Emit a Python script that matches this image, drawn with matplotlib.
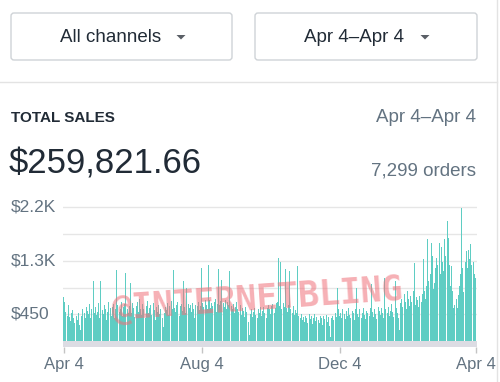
import matplotlib.pyplot as plt
from matplotlib.patches import FancyBboxPatch, Polygon
import numpy as np

plt.rcParams['font.family'] = ['Liberation Sans', 'DejaVu Sans']

# daily sales, Apr 4 -> Apr 3 next year (one row per week)
sales = [
    720, 640, 480, 420, 600, 390, 330,
    460, 510, 380, 300, 420, 350, 470,
    260, 180, 420, 520, 470, 380, 560,
    500, 440, 610, 380, 520, 990, 470,
    560, 430, 480, 620, 380, 990, 510,
    450, 600, 520, 340, 480, 650, 540,
    420, 560, 610, 380, 520, 1170, 590,
    480, 530, 640, 420, 560, 610, 1120,
    520, 470, 580, 950, 460, 620, 540,
    390, 570, 640, 480, 700, 530, 430,
    610, 520, 380, 580, 660, 470, 540,
    590, 430, 620, 510, 350, 560, 480,
    600, 440, 520, 380, 230, 470, 560,
    510, 620, 430, 580, 660, 520, 1170,
    540, 480, 600, 650, 420, 570, 610,
    500, 990, 560, 470, 880, 610, 540,
    590, 480, 620, 520, 380, 600, 570,
    640, 510, 580, 1200, 620, 560, 670,
    600, 520, 1250, 680, 540, 620, 580,
    650, 700, 480, 610, 1190, 590, 660,
    1000, 620, 560, 680, 520, 640, 600,
    1150, 580, 520, 610, 460, 560, 640,
    520, 480, 600, 430, 540, 500, 390,
    560, 480, 310, 100, 450, 520, 400,
    480, 540, 430, 380, 520, 460, 560,
    420, 500, 560, 470, 380, 540, 600,
    520, 440, 580, 610, 470, 550, 620,
    640, 1370, 580, 1300, 520, 620, 560,
    1190, 540, 480, 600, 1150, 520, 460,
    580, 430, 510, 470, 1240, 420, 380,
    450, 340, 400, 310, 420, 380, 300,
    440, 360, 410, 290, 380, 450, 330,
    400, 350, 300, 420, 380, 260, 410,
    360, 430, 320, 390, 250, 70, 380,
    420, 350, 460, 400, 880, 520, 410,
    470, 380, 520, 440, 360, 490, 410,
    540, 430, 380, 500, 460, 350, 520,
    880, 450, 400, 520, 380, 470, 540,
    430, 360, 500, 460, 410, 540, 940,
    480, 390, 520, 450, 370, 560, 500,
    430, 540, 470, 380, 1040, 520, 460,
    560, 420, 500, 610, 480, 390, 990,
    540, 470, 380, 180, 620, 700, 560,
    780, 640, 520, 830, 690, 580, 740,
    650, 820, 1290, 600, 720, 680, 560,
    740, 650, 780, 1350, 820, 700, 900,
    1670, 980, 1100, 1610, 1400, 860, 950,
    1200, 1370, 1250, 1610, 1100, 1550, 1300,
    1150, 1670, 1400, 1970, 1700, 1250, 900,
    1240, 820, 550, 600, 700, 550, 750,
    900, 1100, 2180, 1200, 800, 1300, 1480,
    1200, 1500, 1350, 1600, 1250, 1300, 1100,
    1040,
]
date_ticks = [0, 122, 244, 365]
date_labels = ['Apr 4', 'Aug 4', 'Dec 4', 'Apr 4']
grid_vals = [440, 880, 1320, 1760, 2200]
ylabels = {2200: '$2.2K', 1320: '$1.3K', 440: '$450'}

W, H = 500, 382
fig = plt.figure(figsize=(W / 100, H / 100), dpi=100)

# overlay in pixel coords for the dashboard chrome
bg = fig.add_axes([0, 0, 1, 1])
bg.set_xlim(0, W)
bg.set_ylim(H, 0)
bg.axis('off')

for x0, x1, label, cx, caret in [(11, 232, 'All channels', 111, 181),
                                 (255, 477, 'Apr 4\u2013Apr 4', 354, 425)]:
    bg.add_patch(FancyBboxPatch((x0 + 3, 13 + 3), x1 - x0 - 6, 47 - 6,
                                boxstyle='round,pad=3', fc='white', ec='#cfd3d7', lw=1))
    bg.text(cx, 37, label, ha='center', va='center', fontsize=13.5, color='#212b36')
    bg.add_patch(Polygon([(caret - 4.5, 35), (caret + 4.5, 35), (caret, 39.5)],
                         closed=True, fc='#5a5f66', ec='none'))

bg.plot([0, 497], [82, 82], color='#e3e3e3', lw=1)
bg.plot([497, 497], [0, H], color='#e3e3e3', lw=1)

bg.text(11, 118, 'TOTAL SALES', ha='left', va='center', fontsize=11, fontweight='bold', color='#212b36')
bg.text(476, 118, 'Apr 4\u2013Apr 4', ha='right', va='center', fontsize=13.5, color='#637381')
bg.text(9, 164, '$259,821.66', ha='left', va='center', fontsize=25, color='#212b36')
bg.text(476, 171, '7,299 orders', ha='right', va='center', fontsize=13.5, color='#637381')

# the chart
ax = fig.add_axes([63 / W, 1 - 347 / H, 414 / W, (347 - 204) / H])
ax.patch.set_alpha(0)
days = np.arange(len(sales))
ax.bar(days, sales, width=0.88, color='#5fcdc3', linewidth=0, zorder=2)
ax.axhspan(-95, 0, color='#dcdce3', lw=0, zorder=2)
for g in grid_vals:
    ax.axhline(g, color='#e6e6e6', lw=1, zorder=1)
ax.set_xlim(-0.6, 365.5)
ax.set_ylim(-95, 2250)
for s in ax.spines.values():
    s.set_visible(False)
ax.set_yticks([])
ax.set_xticks(date_ticks)
ax.set_xticklabels(date_labels, fontsize=12, color='#637381')
ax.tick_params(axis='x', length=4, width=1, color='#c4c4c4', pad=3)

for v, lab in ylabels.items():
    ax.text(11 / W, v, lab, transform=ax.get_yaxis_transform().__class__(fig.transFigure, ax.transData),
            ha='left', va='center', fontsize=12.5, color='#637381')

ax.text(0.47, 0.33, '@INTERNETBLING', transform=ax.transAxes, ha='center', va='center',
        fontsize=25, fontweight='bold', family='DejaVu Sans Mono', color='#ef6f78',
        alpha=0.55, rotation=4, zorder=3)

fig.savefig('out.png', dpi=100)
